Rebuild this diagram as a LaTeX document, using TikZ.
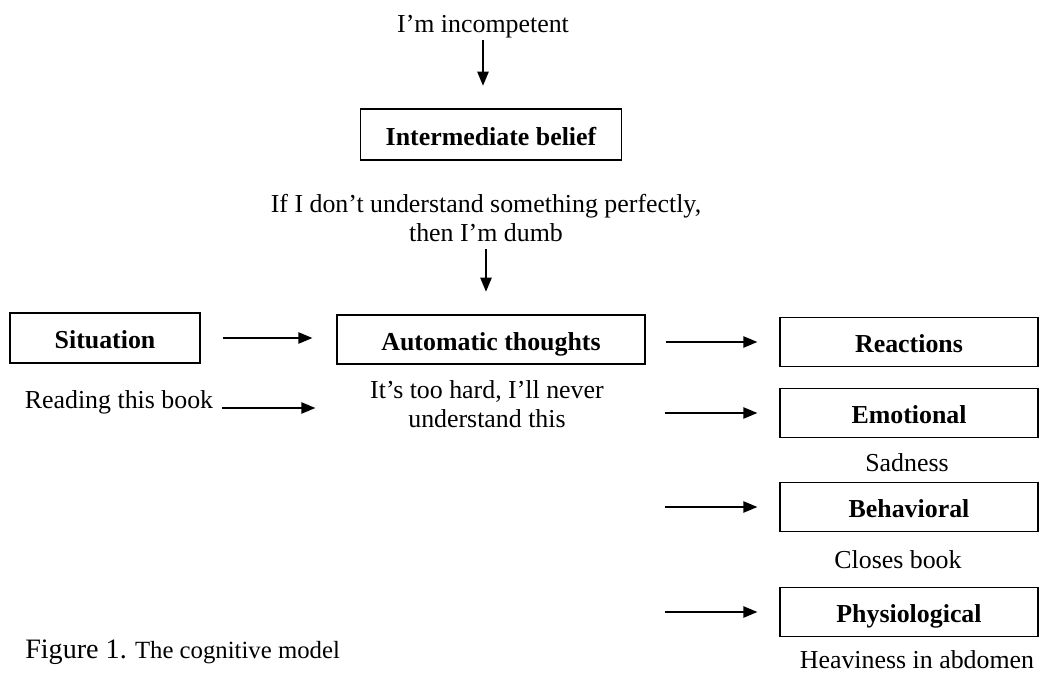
\documentclass[tikz,border=0pt]{standalone}
\usepackage{fontspec}
\setmainfont{Liberation Serif}
\usetikzlibrary{arrows.meta,positioning}

\begin{document}
\begin{tikzpicture}[
    x=0.025cm, y=-0.025cm,
    box/.style={draw, line width=0.9pt, minimum width=6.45cm, minimum height=1.24cm,
        inner sep=0pt, text height=16pt, text depth=1pt,
        font=\fontsize{18.4}{22}\selectfont\bfseries},
    txt/.style={inner sep=0pt, align=center, font=\fontsize{18.4}{21}\selectfont},
    arr/.style={-{Triangle[length=10pt,width=8pt]}, line width=1.2pt}
]
\useasboundingbox (0,0) rectangle (1040,676);

\node[txt, anchor=base] (core) at (483,33) {I'm incompetent};
\node[box, minimum width=6.53cm, minimum height=1.28cm] (inter) at (491,134.5) {Intermediate belief};
\node[txt] (ibtext) at (486,218) {If I don't understand something perfectly,\\then I'm dumb};

\node[box, minimum width=4.75cm, minimum height=1.25cm] (sit) at (105,338) {Situation};
\node[box, minimum width=7.7cm, minimum height=1.23cm] (auto) at (491,339.5) {Automatic thoughts};
\node[txt, anchor=base] (reading) at (119,408) {Reading this book};
\node[txt] (hard) at (487,404) {It's too hard, I'll never\\understand this};

\node[box] (react) at (909,342) {Reactions};
\node[box] (emo) at (909,413) {Emotional};
\node[txt, anchor=base] (sad) at (907,471) {Sadness};
\node[box] (behav) at (909,507) {Behavioral};
\node[txt, anchor=base] (closes) at (898,568) {Closes book};
\node[box] (phys) at (909,612) {Physiological};
\node[txt, anchor=base] (heavy) at (917,668) {Heaviness in abdomen};

\node[txt, anchor=base west, font=\fontsize{17.6}{20}\selectfont] (caption) at (25,658)
    {{\fontsize{20}{24}\selectfont Figure 1.} The cognitive model};

\draw[arr, shorten <=1pt, shorten >=16pt] (core.south) -- (core.south |- inter.north);
\draw[arr, shorten <=5pt, shorten >=16pt] (ibtext.south) -- (ibtext.south |- auto.north);
\draw[arr, shorten <=15.6pt, shorten >=17pt] (sit.east) -- (sit.east -| auto.west);
\draw[arr, shorten <=6.4pt, shorten >=38.8pt] (reading.base east) -- (reading.base east -| hard.west);
\draw[arr, shorten <=14.2pt, shorten >=15.6pt] (react.west -| auto.east) -- (react.west);
\draw[arr, shorten <=43pt, shorten >=15.6pt] (hard.east |- emo.west) -- (emo.west);
\draw[arr, shorten <=43pt, shorten >=15.6pt] (hard.east |- behav.west) -- (behav.west);
\draw[arr, shorten <=43pt, shorten >=15.6pt] (hard.east |- phys.west) -- (phys.west);
\end{tikzpicture}
\end{document}
